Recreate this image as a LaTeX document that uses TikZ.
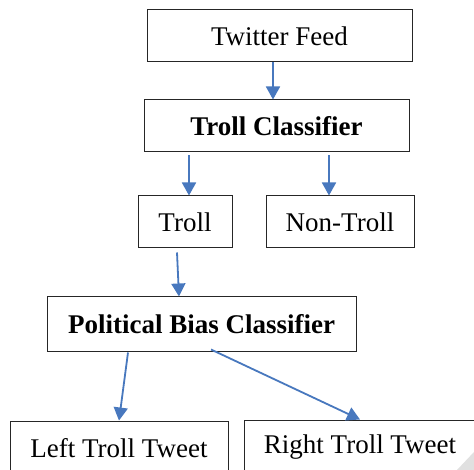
\documentclass[tikz,border=0pt]{standalone}
\usepackage{fontspec}
\setmainfont{Liberation Serif}
\newfontfamily\tnr{Liberation Serif}
\usetikzlibrary{arrows.meta}
\definecolor{arrblue}{RGB}{72,120,190}
\begin{document}
\begin{tikzpicture}[x=1pt,y=-1pt,
  box/.style={draw=black!85,line width=1pt,rectangle,inner sep=0pt,minimum height=52pt,
    font=\tnr\fontsize{27}{30}\selectfont},
  arr/.style={draw=arrblue,line width=1.8pt,-{Triangle[width=14pt,length=13pt,fill=arrblue]}}]
\useasboundingbox (0,0) rectangle (474,470);
\clip (0,0) rectangle (474,470);
\fill[white] (0,0) rectangle (474,470);
\node[box,minimum width=265pt] (feed) at (279.5,36) {Twitter Feed};
\node[box,minimum width=265pt,font=\tnr\fontsize{27}{30}\selectfont\bfseries] (tc) at (276.5,126) {Troll Classifier};
\node[box,minimum width=94pt] (troll) at (185,222) {Troll};
\node[box,minimum width=148pt] (nontroll) at (340,222) {Non-Troll};
\node[box,minimum width=309pt,minimum height=55pt,font=\tnr\fontsize{27}{30}\selectfont\bfseries] (pbc) at (201.5,324.5) {Political Bias Classifier};
\node[box,minimum width=218pt,minimum height=54pt] (left) at (119,448) {Left Troll Tweet};
\node[box,minimum width=232pt,minimum height=54pt] (right) at (360,447) {Right Troll Tweet};
\draw[arr] ([xshift=-6.5pt]feed.south) -- ([xshift=-3.5pt]tc.north);
\draw[arr] ([xshift=-87.5pt,yshift=-3pt]tc.south) -- ([xshift=4pt]troll.north);
\draw[arr] ([xshift=52.5pt,yshift=-3pt]tc.south) -- ([xshift=-11pt]nontroll.north);
\draw[arr] ([xshift=-8pt,yshift=-4pt]troll.south) -- ([xshift=-22.5pt]pbc.north);
\draw[arr] ([xshift=-73.5pt]pbc.south) -- (left.north);
\draw[arr] ([xshift=9.5pt,yshift=3pt]pbc.south) -- (right.north);
\fill[black!12] (457,470) -- (474,452) -- (474,470) -- cycle;
\end{tikzpicture}
\end{document}
